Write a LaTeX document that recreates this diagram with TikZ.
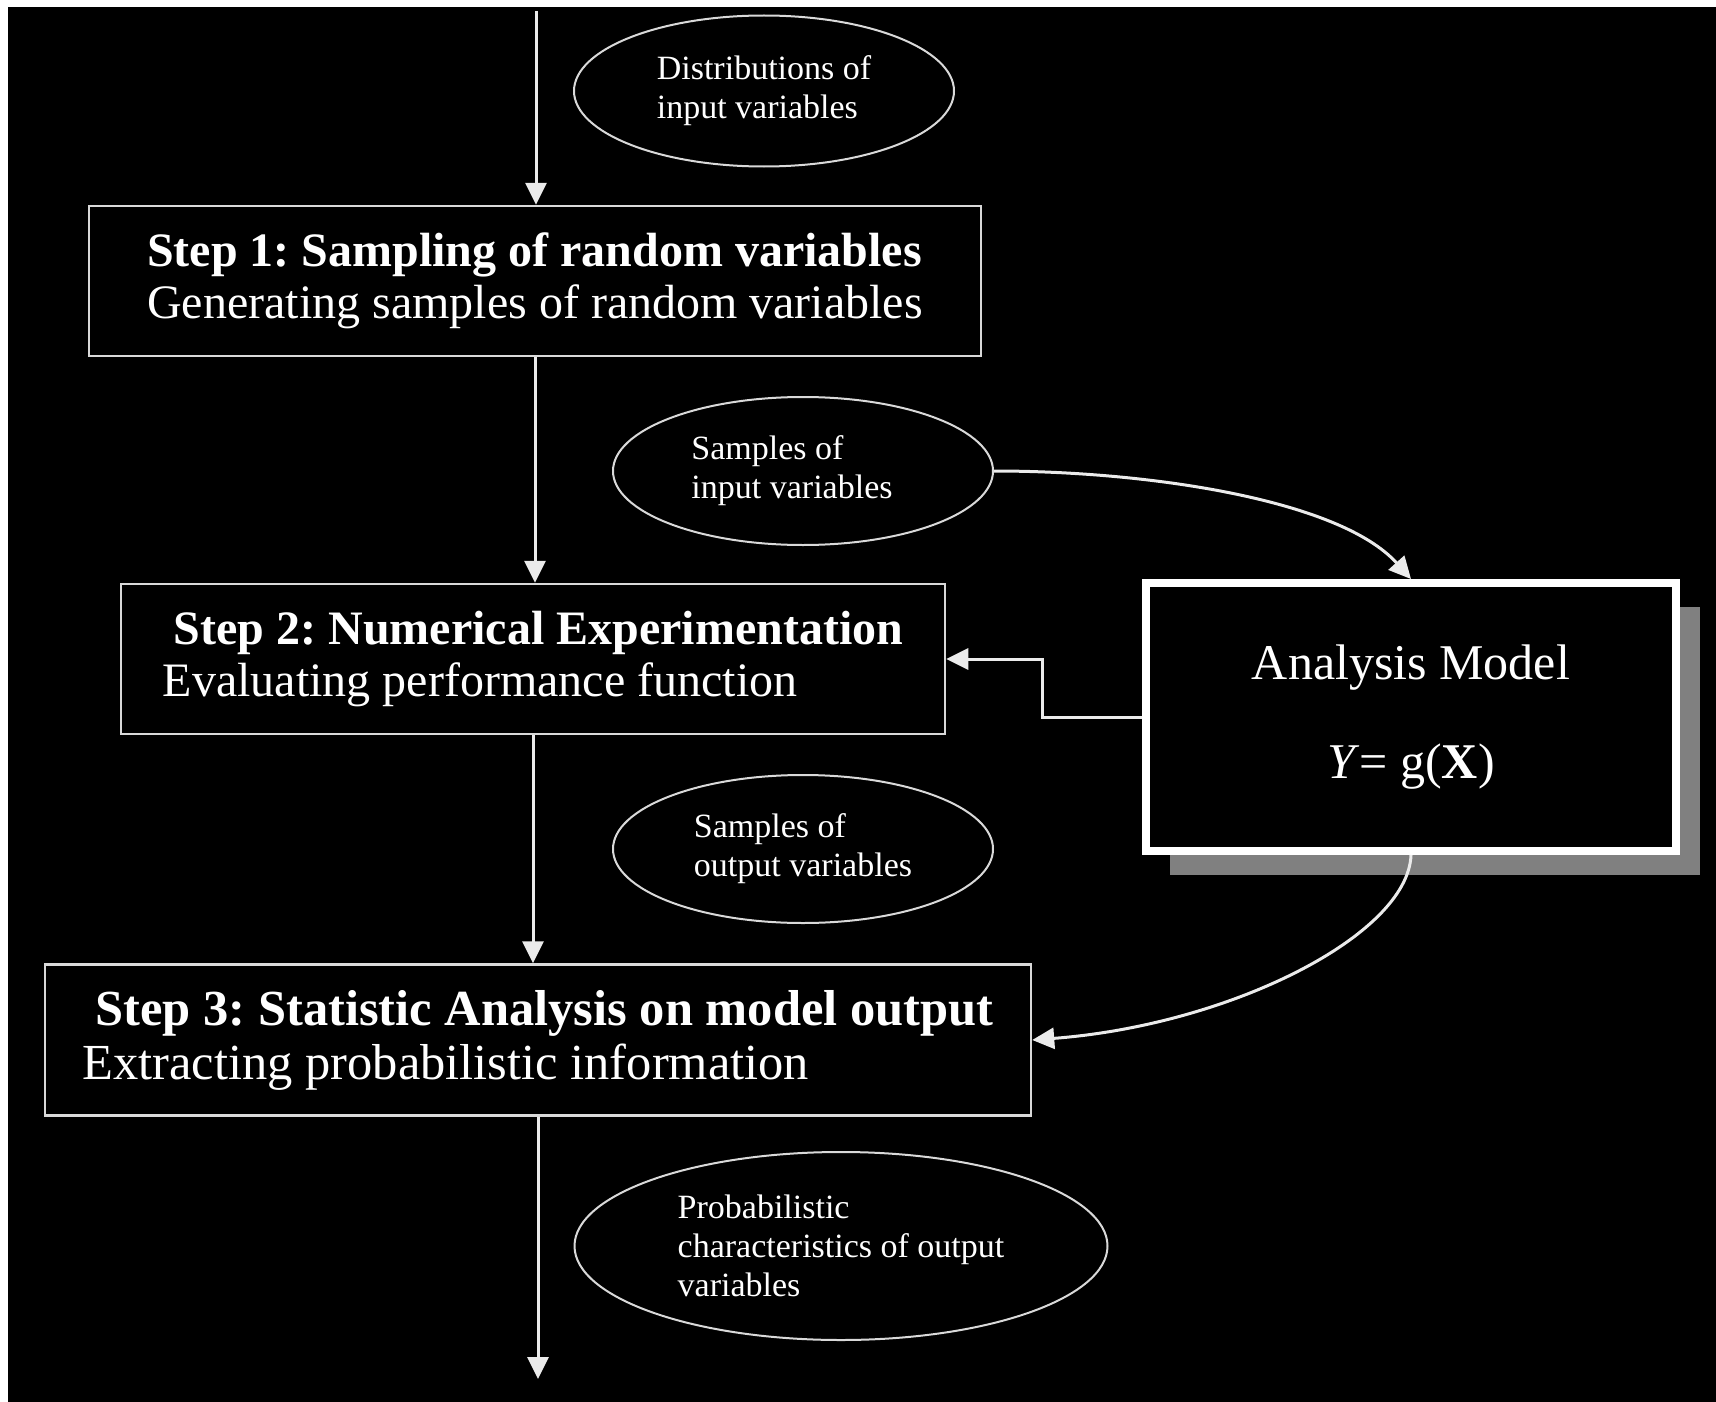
\documentclass[tikz,border=0pt]{standalone}
\usepackage{fontspec}
\setmainfont{Liberation Serif}
\usetikzlibrary{arrows.meta,shapes.geometric,shadows}
\frenchspacing

\begin{document}
\begin{tikzpicture}[x=1pt,y=-1pt,
  boxline/.style={draw=white!85!black,line width=2.5pt},
  stepbox/.style={boxline,fill=black,text=white,align=left,inner sep=0pt,
    font=\fontsize{48}{52.5}\selectfont},
  note/.style={ellipse,draw=white!85!black,line width=2pt,text=white,align=left,
    inner sep=0pt,font=\fontsize{34}{39}\selectfont},
  model/.style={draw=white,line width=8pt,fill=black,text=white,align=center,
    font=\fontsize{50}{99}\selectfont,
    drop shadow={shadow xshift=24pt,shadow yshift=-24pt,fill=gray,opacity=1}},
  flow/.style={draw=white!92!black,line width=3pt,-{Triangle[length=22pt,width=21pt]}}]
\useasboundingbox (0,0) rectangle (1716,1402);
\fill[black] (8,7) rectangle (1716,1402);

% the three steps
\node[stepbox,minimum width=892pt,minimum height=150pt] (s1) at (535,281)
  {\textbf{Step 1: Sampling of random variables}\\Generating samples of random variables};
\node[stepbox,minimum width=824pt,minimum height=150pt] (s2) at (533,659)
  {\hspace*{11pt}\textbf{Step 2: Numerical Experimentation}\\Evaluating performance function};
\node[stepbox,minimum width=986pt,minimum height=151pt,font=\fontsize{50.5}{54}\selectfont] (s3) at (538,1040)
  {\hspace*{13pt}\textbf{Step 3: Statistic Analysis on model output}\\Extracting probabilistic information};

% model
\node[model,minimum width=530pt,minimum height=268pt] (am) at (1411,717)
  {Analysis Model\\\textit{Y}= g(\textbf{X})};

% data ellipses
\node[note,minimum width=380pt,minimum height=151pt] (e1) at (764,91) {Distributions of\\input variables};
\node[note,minimum width=380pt,minimum height=148pt] (e2) at (803,471) {Samples of\\input variables\hspace*{22pt}};
\node[note,minimum width=380pt,minimum height=148pt] (e3) at (803,849) {Samples of\\output variables};
\node[note,minimum width=533pt,minimum height=188pt] (e4) at (841,1246)
  {Probabilistic\\characteristics of output\\variables};

\coordinate (top) at (536,11);
\coordinate (bottom) at (536,1379);

\draw[flow] (top) -- (top |- s1.north);
\draw[flow] (s1.south) -- (s1.south |- s2.north);
\draw[flow] (s2.south) -- (s2.south |- s3.north);
\draw[flow] (s3.south) -- (s3.south |- bottom);

\draw[flow] (e2.east) .. controls (1150,471) and (1340,500) .. (am.north);
\draw[flow] (am.west) -- ++(-100,0) |- (s2.east);
\draw[flow] (am.south) .. controls (1408,935) and (1230,1025) .. (s3.east);
\end{tikzpicture}
\end{document}
